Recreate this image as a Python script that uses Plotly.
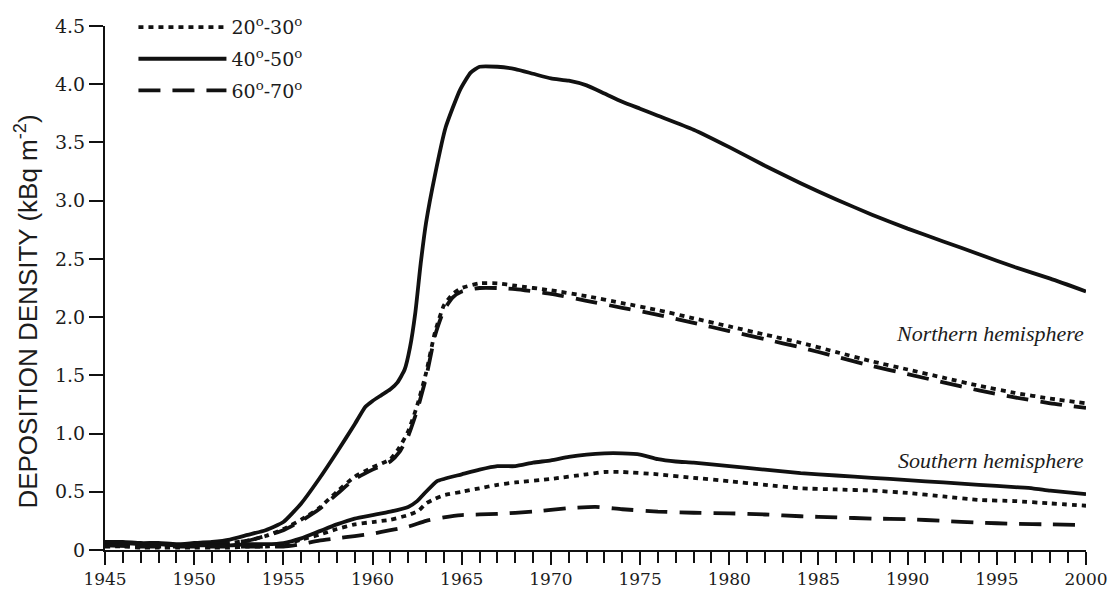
import plotly.graph_objects as go

# ---------------- data ----------------
n4050_years = [1945, 1946, 1947, 1948, 1949, 1950, 1951, 1952, 1953, 1954, 1955, 1956, 1957, 1958, 1959,
               1959.6, 1960, 1960.5, 1961, 1961.4, 1961.8, 1962.1, 1962.4, 1962.7, 1963.0, 1963.5, 1964.1,
               1964.9, 1965.5, 1966, 1967, 1968, 1969, 1970, 1971, 1972, 1973, 1974, 1975, 1976, 1978,
               1980, 1982, 1984, 1986, 1988, 1990, 1992, 1994, 1996, 1998, 2000]
n4050_vals = [0.07, 0.07, 0.06, 0.06, 0.05, 0.06, 0.07, 0.09, 0.13, 0.17, 0.24, 0.40, 0.61, 0.84, 1.08,
              1.23, 1.28, 1.33, 1.38, 1.44, 1.55, 1.74, 2.04, 2.46, 2.81, 3.22, 3.63,
              3.95, 4.10, 4.15, 4.15, 4.13, 4.09, 4.05, 4.03, 3.99, 3.92, 3.85, 3.79, 3.73, 3.61,
              3.46, 3.30, 3.15, 3.01, 2.88, 2.76, 2.65, 2.54, 2.43, 2.33, 2.22]

n2030_years = [1945, 1946, 1947, 1948, 1949, 1950, 1951, 1952, 1953, 1954, 1955, 1956, 1957, 1958, 1959,
               1960, 1961, 1961.5, 1962, 1962.5, 1963, 1963.5, 1964, 1964.5, 1965, 1966, 1967, 1968,
               1970, 1972, 1974, 1976, 1978, 1980, 1982, 1984, 1986, 1988, 1990, 1992, 1994, 1996, 1998, 2000]
n2030_vals = [0.04, 0.04, 0.03, 0.03, 0.03, 0.04, 0.05, 0.06, 0.08, 0.12, 0.18, 0.26, 0.36, 0.50, 0.63,
              0.71, 0.78, 0.88, 1.02, 1.24, 1.52, 1.87, 2.10, 2.20, 2.25, 2.29, 2.29, 2.27,
              2.23, 2.18, 2.12, 2.06, 1.99, 1.92, 1.85, 1.78, 1.70, 1.62, 1.55, 1.48, 1.41, 1.35, 1.30, 1.26]

n6070_years = n2030_years
n6070_vals = [0.05, 0.05, 0.04, 0.04, 0.04, 0.04, 0.05, 0.06, 0.08, 0.12, 0.17, 0.25, 0.35, 0.48, 0.61,
              0.69, 0.76, 0.84, 0.98, 1.20, 1.48, 1.84, 2.06, 2.17, 2.22, 2.25, 2.25, 2.24,
              2.20, 2.14, 2.08, 2.02, 1.95, 1.88, 1.81, 1.74, 1.66, 1.58, 1.51, 1.44, 1.37, 1.31, 1.26, 1.22]

s4050_years = [1945, 1946, 1947, 1948, 1949, 1950, 1951, 1952, 1953, 1954, 1955, 1956, 1957, 1958, 1959,
               1960, 1961, 1962, 1962.5, 1963, 1963.6, 1964, 1965, 1966, 1967, 1968, 1969, 1970, 1971,
               1972, 1973, 1974, 1975, 1976, 1977, 1978, 1980, 1982, 1984, 1986, 1988, 1990, 1992,
               1994, 1996, 1997, 1998, 2000]
s4050_vals = [0.07, 0.06, 0.05, 0.05, 0.04, 0.04, 0.04, 0.04, 0.05, 0.05, 0.06, 0.10, 0.16, 0.22, 0.27,
              0.30, 0.33, 0.37, 0.42, 0.50, 0.59, 0.61, 0.65, 0.69, 0.72, 0.72, 0.75, 0.77, 0.80,
              0.82, 0.83, 0.83, 0.82, 0.78, 0.76, 0.75, 0.72, 0.69, 0.66, 0.64, 0.62, 0.60, 0.58,
              0.56, 0.54, 0.53, 0.51, 0.48]

s2030_years = [1945, 1946, 1947, 1948, 1949, 1950, 1951, 1952, 1953, 1954, 1955, 1956, 1957, 1958, 1959,
               1960, 1961, 1962, 1962.6, 1963, 1963.5, 1964, 1965, 1966, 1967, 1968, 1970, 1972, 1973,
               1974, 1976, 1978, 1980, 1982, 1984, 1986, 1988, 1990, 1992, 1994, 1996, 1998, 2000]
s2030_vals = [0.03, 0.03, 0.02, 0.02, 0.02, 0.02, 0.02, 0.02, 0.03, 0.03, 0.04, 0.09, 0.13, 0.18, 0.22,
              0.24, 0.26, 0.30, 0.34, 0.40, 0.44, 0.47, 0.50, 0.53, 0.56, 0.58, 0.61, 0.65, 0.67,
              0.67, 0.65, 0.62, 0.59, 0.56, 0.53, 0.52, 0.51, 0.49, 0.46, 0.43, 0.42, 0.40, 0.38]

s6070_years = [1945, 1947, 1949, 1951, 1953, 1955, 1956, 1957, 1958, 1959, 1960, 1961, 1962, 1963, 1964,
               1965, 1967, 1969, 1971, 1972.5, 1974, 1976, 1978, 1980, 1982, 1984, 1986, 1988, 1990,
               1992, 1994, 1996, 1998, 2000]
s6070_vals = [0.04, 0.03, 0.03, 0.03, 0.03, 0.03, 0.05, 0.08, 0.10, 0.12, 0.14, 0.17, 0.20, 0.25, 0.28,
              0.30, 0.31, 0.33, 0.36, 0.37, 0.35, 0.33, 0.32, 0.315, 0.305, 0.29, 0.28, 0.27, 0.265,
              0.25, 0.235, 0.225, 0.22, 0.215]

legend_names = ["20<sup>o</sup>-30<sup>o</sup>", "40<sup>o</sup>-50<sup>o</sup>", "60<sup>o</sup>-70<sup>o</sup>"]
y_tick_vals = [0, 0.5, 1.0, 1.5, 2.0, 2.5, 3.0, 3.5, 4.0, 4.5]
y_tick_text = ["0", "0.5", "1.0", "1.5", "2.0", "2.5", "3.0", "3.5", "4.0", "4.5"]
x_tick_vals = [1945, 1950, 1955, 1960, 1965, 1970, 1975, 1980, 1985, 1990, 1995, 2000]
y_title = "DEPOSITION DENSITY (kBq m<sup>-2</sup>)"

# ---------------- styles ----------------
INK = "#111111"
TXT = "#1c1c1c"
LW = 3.8
DOT = "5px,5px"
DASH = "22px,12px"

fig = go.Figure()

series = [
    (n2030_years, n2030_vals, 0, DOT, True),
    (n4050_years, n4050_vals, 1, "solid", True),
    (n6070_years, n6070_vals, 2, DASH, True),
    (s2030_years, s2030_vals, 0, DOT, False),
    (s4050_years, s4050_vals, 1, "solid", False),
    (s6070_years, s6070_vals, 2, DASH, False),
]
for yrs, vals, li, dash, show in series:
    fig.add_trace(go.Scatter(
        x=yrs, y=vals, mode="lines", name=legend_names[li],
        legendgroup=str(li), legendrank=li + 1, showlegend=show,
        line=dict(color=INK, width=LW, dash=dash, shape="spline", smoothing=0.5),
        hoverinfo="skip",
    ))

fig.add_annotation(x=2000, y=1.86, xref="x", yref="y", text="Northern hemisphere",
                   showarrow=False, xanchor="right", yanchor="middle",
                   font=dict(family="Liberation Serif", size=22, color=TXT, style="italic"))
fig.add_annotation(x=2000, y=0.77, xref="x", yref="y", text="Southern hemisphere",
                   showarrow=False, xanchor="right", yanchor="middle",
                   font=dict(family="Liberation Serif", size=22, color=TXT, style="italic"))
fig.add_annotation(x=-0.0795, y=0.455, xref="paper", yref="paper", text=y_title,
                   showarrow=False, textangle=-90, xanchor="center", yanchor="middle",
                   font=dict(family="Liberation Sans", size=26, color=TXT))

fig.update_layout(
    width=1110, height=591,
    margin=dict(l=105, r=24, t=26, b=41, autoexpand=False),
    paper_bgcolor="white", plot_bgcolor="white",
    font=dict(family="DejaVu Serif", size=19, color=TXT),
    showlegend=True,
    legend=dict(x=0.029, y=1.034, xanchor="left", yanchor="top",
                bgcolor="rgba(0,0,0,0)", itemwidth=88, tracegroupgap=4,
                font=dict(family="DejaVu Serif", size=19, color=TXT),
                traceorder="grouped"),
    xaxis=dict(range=[1945, 2000], showgrid=False, zeroline=False, automargin=False,
               showline=True, linecolor=INK, linewidth=2,
               tickvals=x_tick_vals, ticks="outside", ticklen=13, tickwidth=2, tickcolor=INK,
               ticklabeloverflow="allow",
               tickfont=dict(family="DejaVu Serif", size=17, color=TXT),
               minor=dict(dtick=1, ticks="outside", ticklen=11, tickwidth=2, tickcolor=INK,
                          showgrid=False)),
    yaxis=dict(range=[0, 4.5], showgrid=False, zeroline=False, automargin=False,
               showline=True, linecolor=INK, linewidth=2,
               tickvals=y_tick_vals, ticktext=y_tick_text,
               ticks="outside", ticklen=14, tickwidth=2, tickcolor=INK,
               tickfont=dict(family="DejaVu Serif", size=19, color=TXT)),
)

fig.write_html("out.html", config={"displayModeBar": False},
               post_script="document.body.style.margin='0';document.body.style.overflow='hidden';")
